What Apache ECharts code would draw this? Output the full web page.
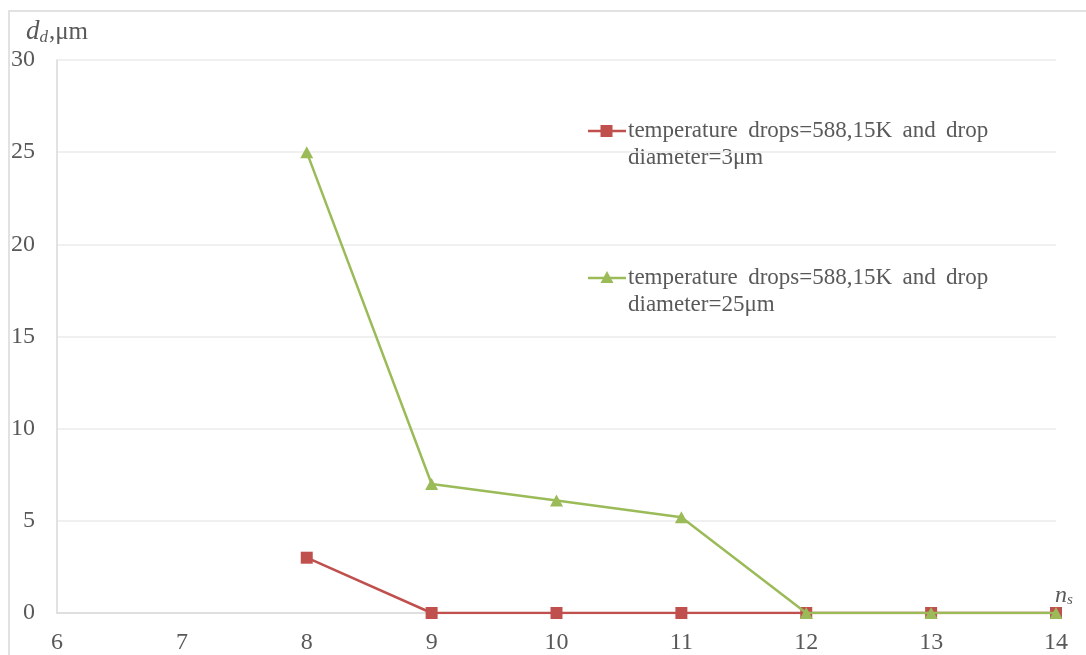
<!DOCTYPE html>
<html>
<head>
<meta charset="utf-8">
<script src="https://cdn.jsdelivr.net/npm/echarts@6/dist/echarts.min.js"></script>
<style>
html,body{margin:0;padding:0;background:#fff;}
#chart{width:1086px;height:655px;}
</style>
</head>
<body>
<div id="chart"></div>
<script>
const xValues = [8, 9, 10, 11, 12, 13, 14];
const drop3um = [3, 0, 0, 0, 0, 0, 0];
const drop25um = [25, 7, 6.1, 5.2, 0, 0, 0];
const seriesNames = [
  'temperature drops=588,15K and drop diameter=3μm',
  'temperature drops=588,15K and drop diameter=25μm'
];
const legendLine1 = 'temperature \u2009drops=588,15K \u2009and \u2009drop';
const legendLine2 = ['diameter=3μm', 'diameter=25μm'];
const xTicks = {min: 6, max: 14, interval: 1};
const yTicks = {min: 0, max: 30, interval: 5};

const RED = '#C0504D', GREEN = '#9BBB59', TXT = '#595959';
const FONT = '"Liberation Serif", "Times New Roman", serif';

const chart = echarts.init(document.getElementById('chart'), null, {renderer: 'canvas'});

function pairs(ys) { return xValues.map((x, i) => [x, ys[i]]); }

function legendItem(y, color, symbol, line2) {
  const marker = symbol === 'rect'
    ? {type: 'rect', shape: {x: 600.5, y: y - 6, width: 12, height: 12}, style: {fill: color}}
    : {type: 'polygon', shape: {points: [[607, y - 7], [613.5, y + 5], [600.5, y + 5]]}, style: {fill: color}};
  return [
    {type: 'line', shape: {x1: 588, y1: y, x2: 626, y2: y}, style: {stroke: color, lineWidth: 2.5}},
    marker,
    {type: 'text', x: 628, y: y - 14, style: {text: legendLine1 + '\n' + line2, font: '23px ' + FONT, fill: TXT, lineHeight: 27, verticalAlign: 'top', align: 'left'}}
  ];
}

const option = {
  backgroundColor: '#fff',
  animation: false,
  grid: {left: 57, right: 30, top: 60, bottom: 42, containLabel: false},
  xAxis: {
    type: 'value',
    min: xTicks.min, max: xTicks.max, interval: xTicks.interval,
    name: '{i|n}{s|s}',
    nameLocation: 'end',
    nameGap: -1,
    nameTextStyle: {
      align: 'left', verticalAlign: 'bottom', padding: [0, 0, 5, 0],
      rich: {
        i: {fontFamily: FONT, fontStyle: 'italic', fontSize: 24, color: TXT},
        s: {fontFamily: FONT, fontStyle: 'italic', fontSize: 15, color: TXT, verticalAlign: 'bottom', padding: [10, 0, 0, 0]}
      }
    },
    axisLine: {show: true, lineStyle: {color: '#d9d9d9', width: 1.5}},
    axisTick: {show: false},
    splitLine: {show: false},
    axisLabel: {color: TXT, fontFamily: FONT, fontSize: 24, margin: 18}
  },
  yAxis: {
    type: 'value',
    min: yTicks.min, max: yTicks.max, interval: yTicks.interval,
    name: '{i|d}{s|d}{n|,μm}',
    nameLocation: 'end',
    nameGap: 14,
    nameTextStyle: {
      align: 'center',
      rich: {
        i: {fontFamily: FONT, fontStyle: 'italic', fontSize: 27, color: TXT},
        s: {fontFamily: FONT, fontStyle: 'italic', fontSize: 17, color: TXT, verticalAlign: 'bottom', padding: [11, 1, 0, 0]},
        n: {fontFamily: FONT, fontSize: 25, color: TXT}
      }
    },
    axisLine: {show: true, lineStyle: {color: '#d9d9d9', width: 1.5}},
    axisTick: {show: false},
    splitLine: {show: true, lineStyle: {color: '#ebebeb', width: 1.5}},
    axisLabel: {color: TXT, fontFamily: FONT, fontSize: 24, margin: 22}
  },
  legend: {show: false},
  series: [
    {
      name: seriesNames[0], type: 'line', data: pairs(drop3um),
      symbol: 'rect', symbolSize: 12, showAllSymbol: true,
      lineStyle: {color: RED, width: 2.5}, itemStyle: {color: RED}, z: 2
    },
    {
      name: seriesNames[1], type: 'line', data: pairs(drop25um),
      symbol: 'triangle', symbolSize: [13, 12], showAllSymbol: true,
      lineStyle: {color: GREEN, width: 2.5}, itemStyle: {color: GREEN}, z: 3
    }
  ],
  graphic: [
    {type: 'rect', shape: {x: 9, y: 11, width: 1200, height: 800}, style: {fill: 'none', stroke: '#d9d9d9', lineWidth: 1.5}, z: -10, silent: true},
    ...legendItem(131, RED, 'rect', legendLine2[0]),
    ...legendItem(278, GREEN, 'triangle', legendLine2[1])
  ]
};
chart.setOption(option);
</script>
</body>
</html>
